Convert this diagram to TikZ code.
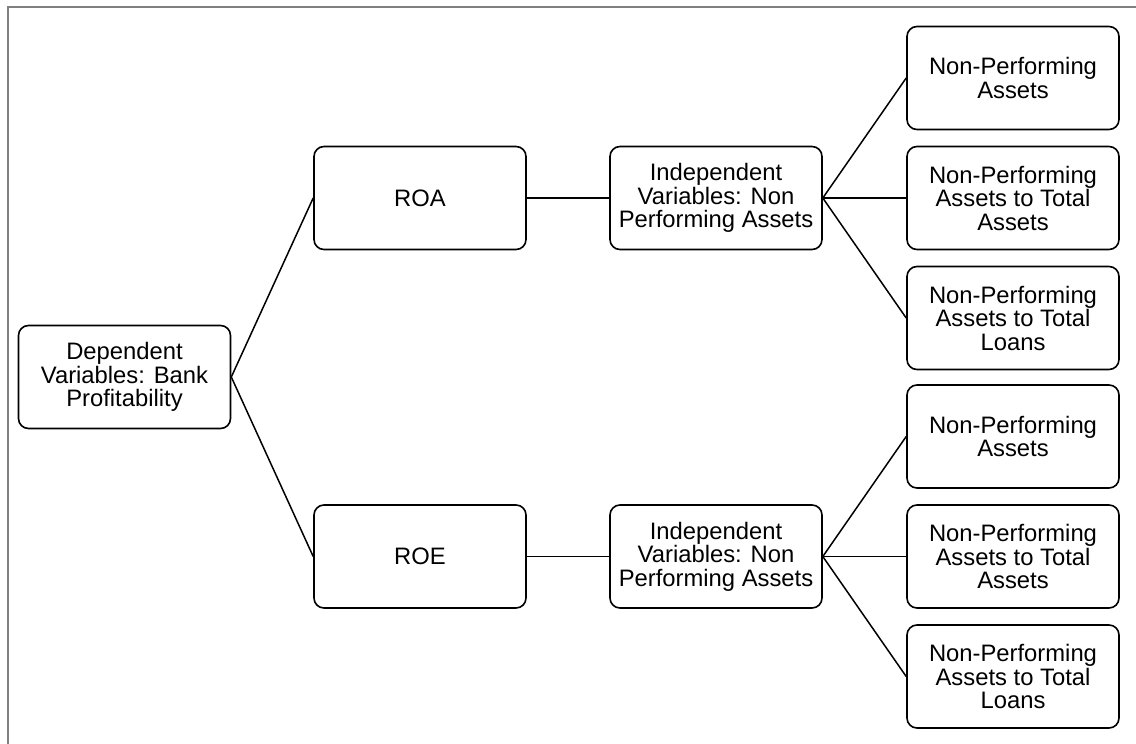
\documentclass[tikz,border=0pt]{standalone}
\usepackage{fontspec}
\setmainfont{Liberation Sans}
\usepackage{tikz}

\tikzset{
    box/.style={draw, line width=1.6pt, rounded corners=10pt, minimum width=212pt,
        minimum height=103pt, inner sep=0pt, align=center,
        font=\fontsize{23.8}{23.5}\selectfont},
    link/.style={line width=1.5pt}
}

\begin{document}
\begin{tikzpicture}[x=1pt, y=-1pt]
    \useasboundingbox (0,0) rectangle (1136,744);
    \draw[gray, line width=2pt] (8,744) -- (8,7) -- (1136,7);
    \node[box] (dep) at (124.5,377) {Dependent\\Variables: Bank\\Profitability};
    \node[box] (roa) at (420,198) {ROA};
    \node[box] (roe) at (420,556.5) {ROE};
    \node[box] (indA) at (716,198) {Independent\\Variables: Non\\Performing Assets};
    \node[box] (indB) at (716,556.5) {Independent\\Variables: Non\\Performing Assets};
    %LEAVES
    \foreach \g/\y in {A/0, B/358.5} {
        \node[box] (npa\g) at (1013,78+\y) {Non-Performing\\Assets};
        \node[box] (npta\g) at (1013,198+\y) {Non-Performing\\Assets to Total\\Assets};
        \node[box] (nptl\g) at (1013,318+\y) {Non-Performing\\Assets to Total\\Loans};
        \draw[link] (ind\g.east) -- (npa\g.west);
        \draw[link] (ind\g.east) -- (npta\g.west);
        \draw[link] (ind\g.east) -- (nptl\g.west);
    }
    \draw[link] (dep.east) -- (roa.west);
    \draw[link] (dep.east) -- (roe.west);
    \draw[link] (roa.east) -- (indA.west);
    \draw[link] (roe.east) -- (indB.west);
\end{tikzpicture}
\end{document}
